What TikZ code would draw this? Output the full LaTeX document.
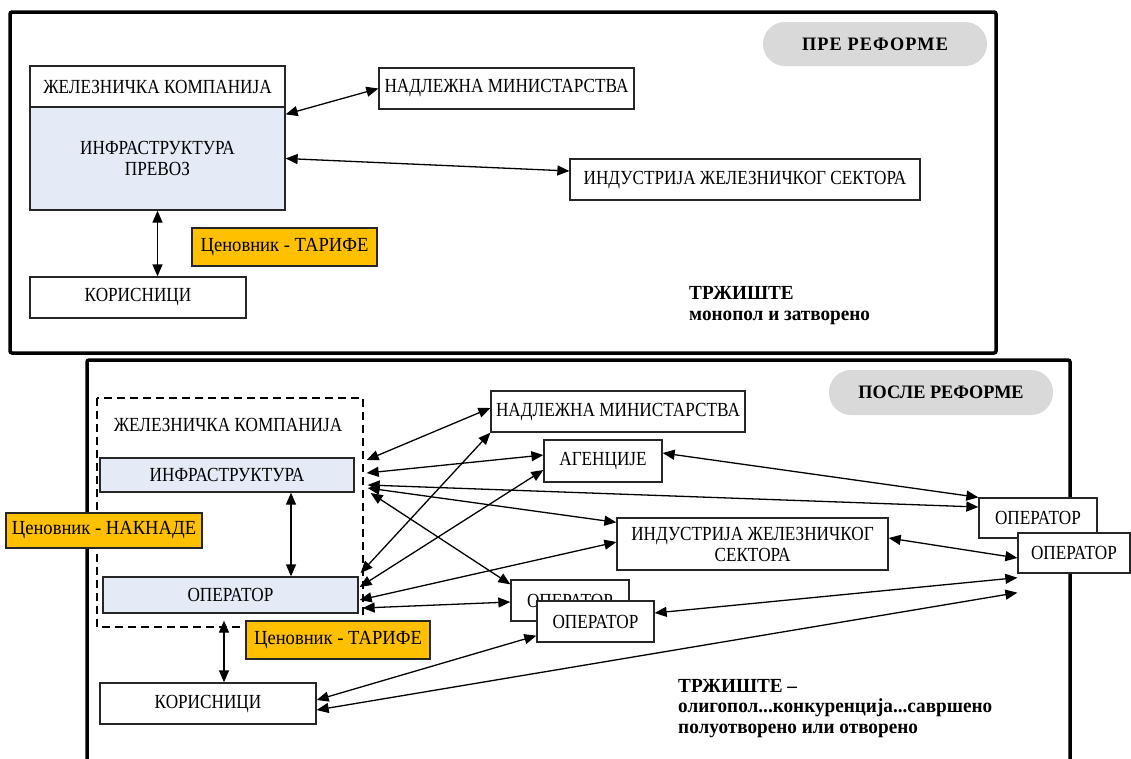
\documentclass[tikz,border=0pt]{standalone}
\usepackage{fontspec}
\setmainfont{Liberation Serif}[FakeStretch=0.86]
\newfontfamily\tagfont{Liberation Serif}[FakeStretch=0.93]
\newfontfamily\notefont{Liberation Serif}[FakeStretch=0.96]
\usetikzlibrary{arrows.meta,calc}
\definecolor{boxblue}{RGB}{228,235,246}
\definecolor{tagorange}{RGB}{255,192,0}
\definecolor{pillgray}{RGB}{217,217,217}

\begin{document}
\begin{tikzpicture}[x=1pt,y=-1pt,
  box/.style={draw=black!85, line width=1.3pt, fill=white, inner sep=0pt, align=center,
    font=\fontsize{20}{21}\selectfont},
  infobox/.style={box, fill=boxblue},
  tagbox/.style={box, fill=tagorange, font=\tagfont\fontsize{20}{21}\selectfont},
  pillbox/.style={fill=pillgray, rounded corners=22pt, inner sep=0pt,
    font=\notefont\bfseries\fontsize{19}{20}\selectfont},
  frameline/.style={line width=3.5pt, rounded corners=2pt},
  link/.style={{Triangle[length=12pt,width=10pt]}-{Triangle[length=12pt,width=10pt]}, line width=1.3pt},
  notetext/.style={font=\notefont\bfseries\fontsize{20}{21}\selectfont, anchor=base west, inner sep=0pt},
  plaintext/.style={font=\fontsize{20}{21}\selectfont, inner sep=0pt}
]
\useasboundingbox (0,0) rectangle (1131,758);

% ---------- before the reform ----------
\draw[frameline] (10,12) rectangle (996,353);
\node[pillbox, minimum width=224pt, minimum height=44pt] (pill1) at (875,44)
  {\addfontfeature{LetterSpace=6}ПРЕ РЕФОРМЕ};

\node[box, minimum width=255pt, minimum height=41pt] (jk1) at (157.5,86.5) {ЖЕЛЕЗНИЧКА КОМПАНИЈА};
\node[infobox, minimum width=255pt, minimum height=103pt] (pr1) at (157.5,158.5) {ИНФРАСТРУКТУРА\\ПРЕВОЗ};
\node[box, minimum width=255pt, minimum height=41pt] (min1) at (506.5,88.5) {НАДЛЕЖНА МИНИСТАРСТВА};
\node[box, minimum width=350pt, minimum height=41pt] (ind1) at (745,179.5) {ИНДУСТРИЈА ЖЕЛЕЗНИЧКОГ СЕКТОРА};
\node[tagbox, minimum width=185pt, minimum height=38pt] (tar1) at (284.5,247) {Ценовник - ТАРИФЕ};
\node[box, minimum width=216pt, minimum height=41pt] (kor1) at (138,297.5) {КОРИСНИЦИ};

\node[notetext] (mkt1a) at (689,299) {ТРЖИШТЕ};
\node[notetext] (mkt1b) at (689,320) {монопол и затворено};

\draw[link] ([yshift=-8pt]pr1.north east) -- (min1.west);
\draw[link] (pr1.east) -- ([yshift=8.5pt]ind1.west);
\draw[link] (pr1.south) -- (pr1.south |- kor1.north);

% ---------- after the reform ----------
\draw[frameline] (87,765) -- (87,360) -- (1070,360) -- (1070,765);
\node[pillbox, minimum width=224pt, minimum height=45pt] (pill2) at (941,392.5) {ПОСЛЕ РЕФОРМЕ};

\draw[line width=1.2pt, dash pattern=on 8pt off 5pt] (97,398) rectangle (363,627);
\node[plaintext] (jk2) at (228,425) {ЖЕЛЕЗНИЧКА КОМПАНИЈА};
\node[infobox, minimum width=254pt, minimum height=34pt] (inf2) at (227,475) {ИНФРАСТРУКТУРА};
\node[infobox, minimum width=255pt, minimum height=36pt] (op2) at (230.5,595) {ОПЕРАТОР};
\node[tagbox, minimum width=196pt, minimum height=35pt] (nak) at (104,530.5) {Ценовник - НАКНАДЕ};
\node[tagbox, minimum width=184pt, minimum height=38pt] (tar2) at (338,640) {Ценовник - ТАРИФЕ};
\node[box, minimum width=216pt, minimum height=41pt] (kor2) at (208,703.5) {КОРИСНИЦИ};

\node[box, minimum width=254pt, minimum height=41pt] (min2) at (618,411.5) {НАДЛЕЖНА МИНИСТАРСТВА};
\node[box, minimum width=118pt, minimum height=42pt] (ag) at (603,461) {АГЕНЦИЈЕ};
\node[box, minimum width=271pt, minimum height=52pt] (ind2) at (752.5,544) {ИНДУСТРИЈА ЖЕЛЕЗНИЧКОГ\\СЕКТОРА};
\node[box, minimum width=118pt, minimum height=41pt] (opA) at (570,600.5) {ОПЕРАТОР};
\node[box, minimum width=117pt, minimum height=41pt] (opB) at (595.5,621.5) {ОПЕРАТОР};
\node[box, minimum width=118pt, minimum height=40pt] (opC) at (1038,518) {ОПЕРАТОР};
\node[box, minimum width=112pt, minimum height=40pt] (opD) at (1074,553) {ОПЕРАТОР};

\node[notetext] (mkt2a) at (678,692) {ТРЖИШТЕ –};
\node[notetext] (mkt2b) at (678,712) {олигопол...конкуренција...савршено};
\node[notetext] (mkt2c) at (678,733) {полуотворено или отворено};

% end points on the company side
\coordinate (i1) at ([xshift=12pt,yshift=15pt]inf2.east);
\coordinate (i2) at ([xshift=12pt,yshift=2pt]inf2.east);
\coordinate (i3) at ([xshift=13pt,yshift=-10pt]inf2.east);
\coordinate (i4) at ([xshift=13pt,yshift=-13pt]inf2.east);
\coordinate (i5) at ([xshift=16pt,yshift=-18pt]inf2.east);
\coordinate (o1) at ([xshift=2pt,yshift=22pt]op2.east);
\coordinate (o2) at ([xshift=1pt,yshift=8pt]op2.east);
\coordinate (o3) at ([xshift=1pt,yshift=-5pt]op2.east);
\coordinate (o4) at ([xshift=4pt,yshift=-13pt]op2.east);

\draw[link] (i1) -- ([yshift=3.5pt]min2.west);
\draw[link] (i2) -- ([yshift=6pt]ag.west);
\draw[link] (i3) -- ([yshift=11pt]opC.west);
\draw[link] (i4) -- ([yshift=-5pt]ind2.north west);
\draw[link] (i5) -- ([yshift=-5pt]opA.north west);
\draw[link] (o1) -- (min2.south west);
\draw[link] (o2) -- ([yshift=-9pt]ag.west);
\draw[link] (o3) -- ([yshift=2pt]ind2.west);
\draw[link] (o4) -- ([yshift=-1.5pt]opA.west);
\draw[link] ([yshift=8pt]ag.east) -- (opC.north west);
\draw[link] ([yshift=6pt]ind2.east) -- ([yshift=-5pt]opD.west);
\draw[link] ([yshift=8.5pt]opB.east) -- ([yshift=-4pt]opD.south west);
\draw[link] ([yshift=3.5pt]kor2.east) -- ([yshift=7pt]opB.south west);
\draw[link] ([yshift=-6.5pt]kor2.east) -- ([yshift=-19pt]opD.south west);
\draw[link] ($(inf2.south)+(64,0)$) -- ($(op2.north)+(60.5,0)$);
\draw[link] ($(kor2.north)+(16,0)$) -- ([xshift=-6.5pt,yshift=-7pt]op2.south);
\end{tikzpicture}
\end{document}
